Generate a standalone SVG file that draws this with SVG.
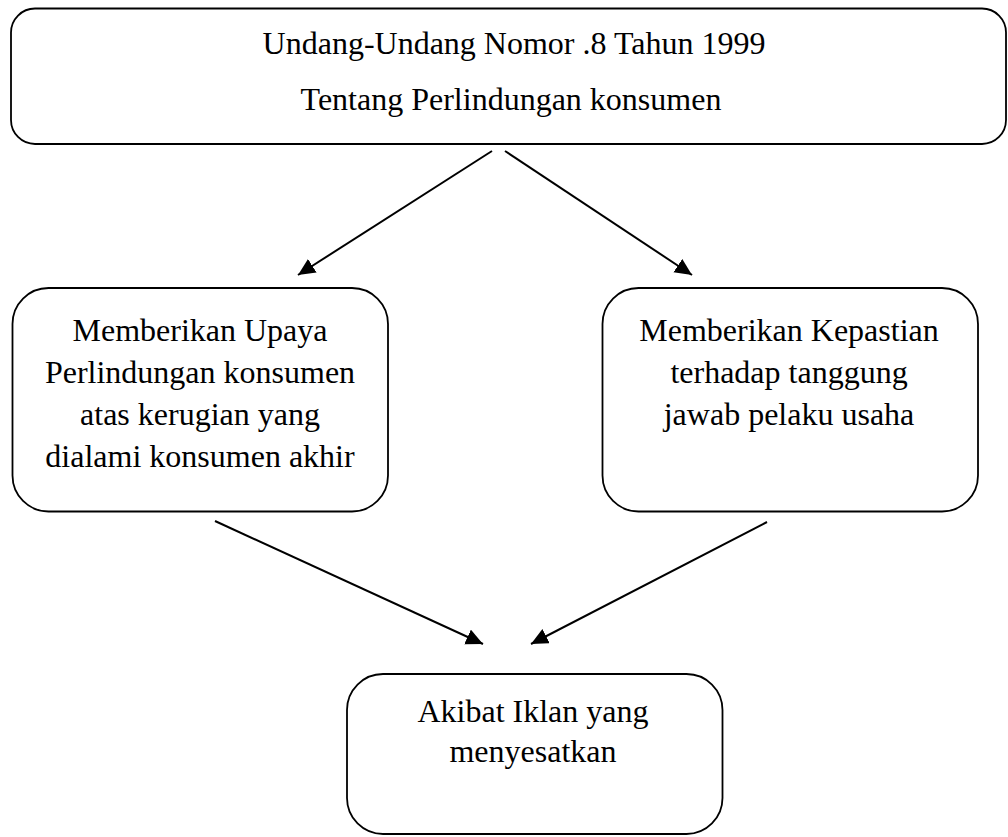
<svg xmlns="http://www.w3.org/2000/svg" width="1008" height="837" viewBox="0 0 1008 837">
<style>
.box{fill:#fff;stroke:#000;stroke-width:1.8}
.t{font-family:"Liberation Serif","Times New Roman",serif;font-size:32px;fill:#000;text-anchor:middle}
.c{stroke:#000;stroke-width:2;fill:none;marker-end:url(#ah)}
</style>
<defs>
<marker id="ah" markerUnits="userSpaceOnUse" markerWidth="20" markerHeight="20" refX="17" refY="8" orient="auto">
<path d="M0,0 L17,8 L0,16 Z" fill="#000"/>
</marker>
</defs>
<rect width="1008" height="837" fill="#fff"/>
<g id="connectors">
<line class="c" x1="492" y1="151" x2="298" y2="275"/>
<line class="c" x1="505" y1="151" x2="692" y2="275"/>
<line class="c" x1="215" y1="521" x2="483" y2="644"/>
<line class="c" x1="767" y1="522" x2="531" y2="644"/>
</g>
<g id="node-uu">
<rect class="box" x="11" y="8.5" width="995" height="135.5" rx="24" ry="24"/>
<text class="t" x="514" y="54">Undang-Undang Nomor .8 Tahun 1999</text>
<text class="t" x="511" y="110">Tentang Perlindungan konsumen</text>
</g>
<g id="node-upaya">
<rect class="box" x="12.5" y="288" width="375.5" height="223.5" rx="36" ry="36"/>
<text class="t" x="200" y="341">Memberikan Upaya</text>
<text class="t" x="200" y="383">Perlindungan konsumen</text>
<text class="t" x="200" y="425">atas kerugian yang</text>
<text class="t" x="200" y="467">dialami konsumen akhir</text>
</g>
<g id="node-kepastian">
<rect class="box" x="602.5" y="288" width="375.5" height="223.5" rx="36" ry="36"/>
<text class="t" x="789" y="341">Memberikan Kepastian</text>
<text class="t" x="789" y="383">terhadap tanggung</text>
<text class="t" x="789" y="425">jawab pelaku usaha</text>
</g>
<g id="node-akibat">
<rect class="box" x="347" y="674" width="375.5" height="160" rx="36" ry="36"/>
<text class="t" x="533" y="722">Akibat Iklan yang</text>
<text class="t" x="533" y="762">menyesatkan</text>
</g>
</svg>
